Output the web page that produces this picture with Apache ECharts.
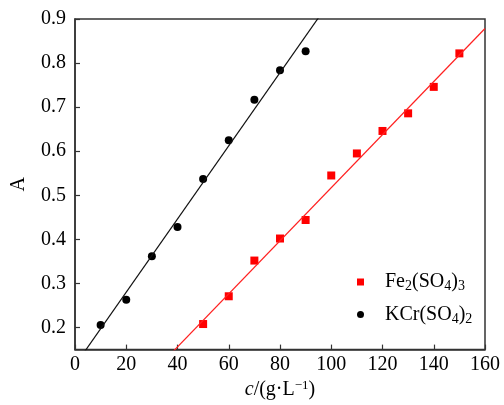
<!DOCTYPE html>
<html>
<head>
<meta charset="utf-8">
<script src="https://cdn.jsdelivr.net/npm/echarts@6/dist/echarts.min.js"></script>
<style>
html,body{margin:0;padding:0;background:#fff;}
#main{width:504px;height:405px;}
</style>
</head>
<body>
<div id="main"></div>
<script>
// 数据
var feX = [50, 60, 70, 80, 90, 100, 110, 120, 130, 140, 150];
var feA = [0.208, 0.271, 0.352, 0.402, 0.444, 0.545, 0.595, 0.646, 0.686, 0.746, 0.822];
var krX = [10, 20, 30, 40, 50, 60, 70, 80, 90];
var krA = [0.206, 0.263, 0.362, 0.428, 0.537, 0.625, 0.717, 0.784, 0.827];
// 拟合直线 [斜率, 截距]
var feFit = [0.00602, -0.0847];
var krFit = [0.0083, 0.1143];
var xTicks = [0, 160, 20];
var yTicks = [0.15, 0.9];

function pts(x, y){
	var r = [];
	for(var i = 0; i < x.length; i++){
		r.push([x[i], y[i]]);
	}
	return r;
}
function fitLine(f){
	return [[xTicks[0], f[1] + f[0]*xTicks[0]], [xTicks[1], f[1] + f[0]*xTicks[1]]];
}

var font = 'Liberation Serif';
var myChart = echarts.init(document.getElementById('main'));
var option = {
	animation: false,
	textStyle: {fontFamily: font},
	grid: {
		left: 75, top: 19, right: 19, bottom: 45,
		show: true, borderColor: '#333', borderWidth: 1.5
	},
	legend: {
		orient: 'vertical',
		left: 352, top: 267,
		itemWidth: 7, itemHeight: 7,
		itemGap: 11,
		data: [
			{name: 'Fe', icon: 'rect'},
			{name: 'KCr', icon: 'circle'}
		],
		formatter: function(name){
			if(name == 'Fe') return 'Fe{s|2}(SO{s|4}){s|3}';
			return 'KCr(SO{s|4}){s|2}';
		},
		textStyle: {
			fontFamily: font, fontSize: 20, color: '#000',
			padding: [0, 0, 0, 16],
			rich: {
				s: {fontFamily: font, fontSize: 14, color: '#000', verticalAlign: 'bottom', padding: [9, 0, 0, 0]}
			}
		}
	},
	xAxis: {
		type: 'value',
		min: xTicks[0], max: xTicks[1], interval: xTicks[2],
		name: '{i|c}/(g·L{p|−1})',
		nameLocation: 'middle',
		nameGap: 27,
		nameTextStyle: {
			fontFamily: font, fontSize: 20, color: '#000',
			rich: {
				i: {fontFamily: font, fontSize: 20, fontStyle: 'italic', color: '#000'},
				p: {fontFamily: font, fontSize: 13, color: '#000', verticalAlign: 'top', padding: [0, 0, 8, 0]}
			}
		},
		axisLine: {show: true, lineStyle: {color: '#333', width: 1.5}},
		axisTick: {show: true, inside: true, length: 5, lineStyle: {color: '#333', width: 1.2}},
		axisLabel: {fontFamily: font, fontSize: 20, color: '#000', margin: 5},
		splitLine: {show: false}
	},
	yAxis: {
		type: 'value',
		min: yTicks[0], max: yTicks[1],
		name: 'A',
		nameLocation: 'middle',
		nameGap: 46,
		nameTextStyle: {fontFamily: font, fontSize: 20, color: '#000'},
		axisLine: {show: true, lineStyle: {color: '#333', width: 1.5}},
		axisTick: {show: true, inside: true, length: 5, lineStyle: {color: '#333', width: 1.2}},
		axisLabel: {
			fontFamily: font, fontSize: 20, color: '#000', margin: 9,
			showMinLabel: false,
			formatter: function(v){ return v.toFixed(1); }
		},
		splitLine: {show: false}
	},
	series: [
		{
			name: 'FeLine', type: 'line', data: fitLine(feFit),
			symbol: 'none', silent: true,
			lineStyle: {color: '#ff2020', width: 1.2}
		},
		{
			name: 'KCrLine', type: 'line', data: fitLine(krFit),
			symbol: 'none', silent: true,
			lineStyle: {color: '#111', width: 1.2}
		},
		{
			name: 'Fe', type: 'scatter', data: pts(feX, feA),
			symbol: 'rect', symbolSize: 8,
			itemStyle: {color: '#ff0000', opacity: 1}
		},
		{
			name: 'KCr', type: 'scatter', data: pts(krX, krA),
			symbol: 'circle', symbolSize: 8,
			itemStyle: {color: '#000', opacity: 1}
		}
	]
};
myChart.setOption(option);
</script>
</body>
</html>
